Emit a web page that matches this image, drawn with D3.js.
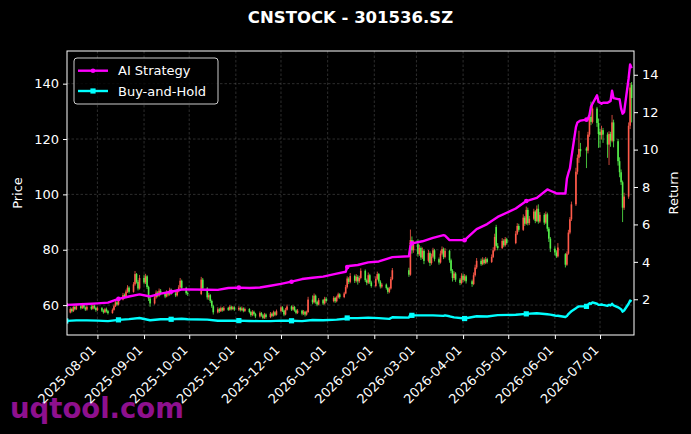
<!DOCTYPE html>
<html>
<head>
<meta charset="utf-8">
<script src="https://cdn.jsdelivr.net/npm/d3@7"></script>
<style>
  body { margin: 0; background: #000; }
  svg { display: block; }
</style>
</head>
<body>
<svg width="691" height="434"></svg>
<script>
// ---- data ----
// trading calendar: weekdays from firstDay to lastDay, minus exchange closures
const firstDay = '2025-07-11';
const lastDay = '2026-07-22';
const closedDays = ['2025-10-01', '2025-10-02', '2025-10-03', '2025-10-06', '2025-10-07', '2025-10-08',
  '2026-01-01', '2026-01-02', '2026-02-16', '2026-02-17', '2026-02-18', '2026-02-19', '2026-02-20',
  '2026-02-23', '2026-04-06', '2026-05-01', '2026-05-04', '2026-05-05', '2026-06-04', '2026-06-05',
  '2026-06-19'];

// daily candles, one row per month
const open = [
  58.0,57.3,58.6,57.8,59.3,58.5,59.6,58.9,60.2,59.1,58.4,59.4,58.7,59.8,59.0,
  58.2,58.9,58.0,57.4,58.5,57.8,57.1,58.3,59.6,61.0,60.2,62.0,63.6,62.8,64.9,66.3,64.8,67.5,71.2,68.4,66.0,
  69.8,68.2,70.4,66.5,62.4,60.6,62.8,64.5,63.4,65.2,64.0,63.1,64.6,63.8,65.5,64.2,63.5,65.0,66.4,68.8,66.2,64.3,
  64.0,69.2,66.0,62.8,63.6,61.5,59.6,57.4,58.5,57.8,58.9,58.1,59.0,58.3,59.4,58.6,59.2,
  58.4,59.0,58.2,58.8,57.9,58.6,57.5,56.4,57.6,56.8,55.9,57.1,56.3,55.4,56.6,55.7,56.9,56.1,57.4,56.5,
  57.8,59.2,58.0,56.6,58.3,59.5,58.4,59.3,58.1,57.2,58.0,56.9,57.6,56.6,57.5,62.0,61.0,63.4,61.2,60.2,61.8,60.6,62.3,
  61.5,62.6,61.4,62.8,63.9,62.9,64.2,66.5,69.6,68.4,70.5,68.8,70.2,68.6,69.8,72.4,69.0,68.1,70.8,68.2,
  66.9,69.5,71.2,68.5,66.7,67.4,66.2,64.8,66.0,69.4,72.6,71.0,83.5,79.8,
  82.0,78.4,80.6,77.2,79.6,76.0,78.8,75.2,77.5,79.8,76.6,75.4,78.6,80.2,77.4,79.6,76.2,72.4,69.8,71.4,69.2,68.0,
  70.6,69.1,70.4,68.6,67.6,70.8,73.6,76.0,74.8,76.4,75.2,76.6,75.6,77.4,79.8,88.2,81.4,80.6,83.2,81.6,83.8,
  82.4,85.8,88.6,87.2,91.6,89.4,94.4,89.6,91.2,93.8,90.4,94.8,90.2,92.6,89.8,92.8,87.6,84.0,
  80.4,79.0,77.6,78.4,74.6,78.6,86.2,91.0,96.4,108.2,113.2,116.4,116.6,115.8,121.6,128.0,126.2,131.0,125.8,
  122.6,121.4,123.2,121.6,118.0,121.8,119.4,126.0,119.2,112.0,108.0,104.4,95.2,99.2,124.8,139.6
];
const high = [
  58.5,59.2,59.0,59.8,60.2,60.1,60.3,60.8,60.6,59.5,59.9,60.0,60.4,60.2,59.4,
  59.5,59.3,58.5,59.0,59.1,58.2,58.8,60.2,61.6,61.8,62.6,64.4,64.2,65.6,67.2,66.8,68.3,72.3,71.6,69.1,70.9,
  71.0,71.3,70.8,67.0,63.0,63.5,65.3,65.0,66.0,65.8,64.6,65.4,65.1,66.3,66.0,64.8,65.8,67.2,69.8,69.2,66.6,64.9,
  70.2,69.8,66.5,64.4,64.0,62.0,60.1,59.2,59.0,59.5,59.3,59.6,59.4,60.0,59.8,59.7,59.6,
  59.6,59.4,59.5,59.2,59.1,58.9,57.9,58.2,58.0,57.2,57.7,57.5,56.8,57.2,57.0,57.5,57.3,58.0,57.8,58.4,
  59.8,59.6,58.4,59.0,60.2,59.9,59.9,59.7,58.5,58.6,58.3,58.2,57.9,58.0,63.0,63.5,64.2,63.8,61.6,62.5,62.2,63.0,62.9,
  63.2,63.0,63.4,64.5,64.3,64.8,67.3,70.4,70.1,71.6,71.0,71.2,70.8,70.6,73.3,72.9,69.6,71.8,71.3,68.8,
  70.4,72.1,71.6,69.0,68.0,67.8,66.6,66.6,70.2,73.4,73.5,87.3,84.8,83.4,
  83.8,81.8,81.2,80.8,80.1,79.9,79.4,78.6,80.7,80.3,77.2,79.7,81.2,80.8,80.6,80.0,76.8,73.0,72.2,71.9,69.8,71.5,
  71.3,71.2,70.9,69.2,71.8,74.6,77.0,76.8,77.3,76.9,77.4,77.1,78.3,80.9,85.8,89.0,82.4,84.2,83.8,84.6,84.3,
  86.8,89.6,89.4,92.8,92.2,95.6,95.2,92.2,94.8,94.3,96.0,96.4,93.6,93.2,93.8,93.4,88.2,84.6,
  81.2,79.8,82.4,78.8,79.4,87.2,91.8,97.4,109.6,114.4,123.0,118.6,117.2,122.6,129.6,133.5,132.4,131.6,127.4,
  123.6,124.8,124.0,122.4,122.8,122.6,128.7,127.0,120.0,113.4,109.0,105.0,100.6,126.0,140.2,140.6
];
const low = [
  56.6,57.0,57.3,57.5,58.1,58.2,58.4,58.6,58.7,57.9,58.0,58.2,58.4,58.5,57.6,
  57.8,57.5,56.9,57.1,57.3,56.6,56.9,58.0,59.3,59.8,59.9,61.7,62.3,62.5,64.4,64.2,64.5,67.0,67.8,65.3,65.6,
  67.5,67.6,65.8,61.5,59.4,60.2,62.3,62.8,63.0,63.5,62.5,62.8,63.2,63.4,63.7,62.9,63.1,64.6,66.0,65.6,63.7,63.3,
  63.6,65.3,62.0,61.9,60.8,59.0,56.6,57.0,57.2,57.5,57.6,57.8,57.9,58.0,58.1,58.2,57.9,
  57.9,57.7,57.8,57.4,57.5,57.0,55.8,56.0,56.2,55.3,55.5,55.8,54.9,55.0,55.1,55.3,55.6,55.8,56.0,56.2,
  57.4,57.5,56.0,56.3,58.0,57.9,58.0,57.6,56.7,56.8,56.3,56.4,55.9,56.2,57.2,60.3,60.6,60.5,59.6,59.9,60.0,60.2,60.9,
  61.0,60.8,61.0,62.4,62.3,62.5,63.9,66.0,67.6,67.9,68.0,68.2,67.4,68.0,69.3,68.3,67.2,67.6,67.6,66.3,
  66.4,69.0,67.8,66.0,66.1,65.6,64.1,64.3,65.6,69.0,70.2,70.6,78.6,78.9,
  77.5,77.8,76.3,76.6,74.8,75.4,74.1,74.6,77.0,75.8,74.6,75.0,78.0,76.6,76.9,75.3,71.5,68.5,69.1,68.4,67.2,67.5,
  68.4,68.6,67.8,66.6,67.2,70.3,73.0,74.2,74.4,74.6,74.8,75.0,75.2,77.0,79.4,80.8,79.8,80.2,80.9,81.1,81.8,
  82.0,85.3,86.5,86.8,88.6,89.0,88.8,88.9,90.7,89.6,90.0,89.4,89.7,89.0,89.3,86.6,82.8,79.2,
  78.0,77.0,77.2,73.6,74.2,78.2,85.6,90.4,95.8,107.2,111.4,113.6,109.5,114.8,120.8,125.0,125.6,124.4,116.8,
  117.0,119.8,118.6,113.2,110.6,117.2,118.8,117.0,110.4,106.2,103.4,90.0,94.4,98.4,123.6,126.0
];
const close = [
  57.2,58.6,57.8,59.3,58.5,59.6,58.9,60.2,59.1,58.4,59.4,58.7,59.8,59.0,58.2,
  58.9,58.0,57.4,58.5,57.8,57.1,58.3,59.6,61.0,60.2,62.0,63.6,62.8,64.9,66.3,64.8,67.5,71.2,68.4,66.0,69.8,
  68.2,70.4,66.5,62.4,60.6,62.8,64.5,63.4,65.2,64.0,63.1,64.6,63.8,65.5,64.2,63.5,65.0,66.4,68.8,66.2,64.3,64.0,
  69.2,66.0,62.8,63.6,61.5,59.6,57.4,58.5,57.8,58.9,58.1,59.0,58.3,59.4,58.6,59.2,58.4,
  59.0,58.2,58.8,57.9,58.6,57.5,56.4,57.6,56.8,55.9,57.1,56.3,55.4,56.6,55.7,56.9,56.1,57.4,56.5,57.8,
  59.2,58.0,56.6,58.3,59.5,58.4,59.3,58.1,57.2,58.0,56.9,57.6,56.6,57.5,62.0,61.0,63.4,61.2,60.2,61.8,60.6,62.3,61.5,
  62.6,61.4,62.8,63.9,62.9,64.2,66.5,69.6,68.4,70.5,68.8,70.2,68.6,69.8,72.4,69.0,68.1,70.8,68.2,66.9,
  69.5,71.2,68.5,66.7,67.4,66.2,64.8,66.0,69.4,72.6,71.0,83.5,79.8,82.0,
  78.4,80.6,77.2,79.6,76.0,78.8,75.2,77.5,79.8,76.6,75.4,78.6,80.2,77.4,79.6,76.2,72.4,69.8,71.4,69.2,68.0,70.6,
  69.1,70.4,68.6,67.6,70.8,73.6,76.0,74.8,76.4,75.2,76.6,75.6,77.4,79.8,84.6,81.4,80.6,83.2,81.6,83.8,82.4,
  85.8,88.6,87.2,91.6,89.4,94.4,89.6,91.2,93.8,90.4,94.8,90.2,92.6,89.8,92.8,87.6,84.0,80.4,
  79.0,77.6,80.8,74.6,78.6,86.2,91.0,96.4,108.2,113.2,116.4,115.6,115.8,121.6,128.0,126.2,131.0,125.8,121.8,
  121.4,123.2,121.6,118.0,121.8,119.4,126.0,119.2,112.0,108.0,104.4,95.2,99.2,124.8,138.6,134.8
];

// return lines, keyed by trading-day index
const lineIdx = [0,5,10,15,20,25,30,35,40,45,50,55,57,60,65,70,75,80,85,90,
  95,100,105,110,115,120,124,125,126,130,135,140,145,147,148,149,150,155,160,165,
  166,167,170,175,180,185,190,195,200,205,210,212,
  213,214,215,216,217,218,219,220,221,222,223,224,225,226,227,228,229,230,231,232,
  233,234,235,236,237,238,239,240,241,242,243,244,245,246,247];
const aiReturn = [1.70,1.72,1.75,1.78,1.82,2.02,2.15,2.26,2.15,2.30,2.40,2.52,2.53,2.51,2.50,2.60,2.62,2.60,2.63,2.72,
  2.82,2.94,3.08,3.15,3.21,3.37,3.47,3.72,3.78,3.83,3.97,4.02,4.20,4.25,4.30,4.85,4.99,5.10,5.28,5.43,
  5.40,5.16,5.16,5.16,5.75,6.02,6.40,6.85,7.25,7.42,7.87,7.80,
  7.70,7.65,7.65,7.65,8.45,8.75,9.00,9.60,11.20,11.45,11.50,11.55,11.60,11.65,11.85,12.30,12.45,12.90,12.55,12.50,
  12.45,12.50,12.50,12.55,12.60,13.15,12.75,12.70,12.70,12.20,11.92,12.00,13.80,14.55,14.35];
const bhReturn = [0.84,0.87,0.87,0.86,0.83,0.90,0.94,1.00,0.88,0.93,0.93,0.96,0.93,0.91,0.85,0.85,0.86,0.84,0.83,0.83,
  0.86,0.85,0.83,0.89,0.88,0.91,0.96,1.00,0.99,0.99,1.02,0.99,0.95,1.04,1.02,1.19,1.14,1.14,1.14,1.11,
  1.14,1.09,1.03,0.97,1.09,1.08,1.15,1.17,1.22,1.25,1.20,1.18,
  1.13,1.11,1.12,1.05,1.10,1.21,1.29,1.36,1.52,1.58,1.62,1.62,1.62,1.70,1.79,1.76,1.83,1.76,1.70,1.70,
  1.72,1.70,1.65,1.70,1.67,1.76,1.67,1.57,1.52,1.47,1.34,1.40,1.76,1.93,1.88];

const priceTicks = [60, 80, 100, 120, 140];
const returnTicks = [2, 4, 6, 8, 10, 12, 14];

(function (d3) {
  'use strict';

  const svg = d3.select('svg');
  const width = +svg.attr('width');
  const height = +svg.attr('height');

  const left = 67, right = 634, top = 51, bottom = 335;
  const font = 'DejaVu Sans, Arial, sans-serif';

  svg.append('rect').attr('width', width).attr('height', height).attr('fill', '#000');

  const fmt = d3.timeFormat('%Y-%m-%d');
  const parse = d3.timeParse('%Y-%m-%d');
  const days = d3.timeDay.range(parse(firstDay), d3.timeDay.offset(parse(lastDay), 1))
    .filter(d => d.getDay() % 6 !== 0 && !closedDays.includes(fmt(d)));

  const x = d3.scaleTime()
    .domain([new Date(2025, 6, 11, 19), new Date(2026, 6, 23, 14)])
    .range([left, right]);
  const yP = d3.scaleLinear().domain([49.2, 151.8]).range([bottom, top]);
  const yR = d3.scaleLinear().domain([0.09, 15.27]).range([bottom, top]);

  svg.append('clipPath').attr('id', 'plot')
    .append('rect')
      .attr('x', left).attr('y', top)
      .attr('width', right - left).attr('height', bottom - top);

  // grid
  const monthTicks = d3.timeMonth.range(new Date(2025, 7, 1), new Date(2026, 6, 2));
  const grid = svg.append('g')
    .attr('stroke', '#8a8a8a').attr('stroke-opacity', 0.55)
    .attr('stroke-width', 0.6).attr('stroke-dasharray', '2.5,2');
  grid.selectAll('.gx').data(monthTicks).enter().append('line')
    .attr('x1', d => x(d)).attr('x2', d => x(d))
    .attr('y1', top).attr('y2', bottom);
  grid.selectAll('.gy').data(priceTicks).enter().append('line')
    .attr('x1', left).attr('x2', right)
    .attr('y1', d => yP(d)).attr('y2', d => yP(d));

  // watermark sits under the axis labels
  svg.append('text')
    .attr('x', 10).attr('y', 418)
    .attr('font-family', font).attr('font-weight', 'bold').attr('font-size', 27.5)
    .attr('fill', '#8e108e')
    .text('uqtool.com');

  // candles
  const candles = days.map((d, i) => ({ d, o: open[i], h: high[i], l: low[i], c: close[i] }));
  const cg = svg.append('g').attr('clip-path', 'url(#plot)');
  const col = k => k.c >= k.o ? '#ff5a4a' : '#55f04a';
  cg.selectAll('.wick').data(candles).enter().append('line')
    .attr('x1', k => x(k.d)).attr('x2', k => x(k.d))
    .attr('y1', k => yP(k.h)).attr('y2', k => yP(k.l))
    .attr('stroke', col).attr('stroke-width', 0.8);
  cg.selectAll('.body').data(candles).enter().append('rect')
    .attr('x', k => x(k.d) - 0.8)
    .attr('width', 1.6)
    .attr('y', k => yP(Math.max(k.o, k.c)))
    .attr('height', k => Math.max(0.8, Math.abs(yP(k.o) - yP(k.c))))
    .attr('fill', col);

  // return lines
  const ai = lineIdx.map((i, j) => ({ i, d: days[i], v: aiReturn[j] }));
  const bh = lineIdx.map((i, j) => ({ i, d: days[i], v: bhReturn[j] }));
  const line = d3.line().x(p => x(p.d)).y(p => yR(p.v));
  const lg = svg.append('g').attr('clip-path', 'url(#plot)');
  lg.append('path').attr('d', line(bh))
    .attr('fill', 'none').attr('stroke', '#00ffff').attr('stroke-width', 2.4)
    .attr('stroke-linejoin', 'round');
  lg.append('path').attr('d', line(ai))
    .attr('fill', 'none').attr('stroke', '#ff00ff').attr('stroke-width', 2.4)
    .attr('stroke-linejoin', 'round');
  lg.selectAll('.mb').data(bh.filter(p => p.i % 25 === 0)).enter().append('rect')
    .attr('x', p => x(p.d) - 2.6).attr('y', p => yR(p.v) - 2.6)
    .attr('width', 5.2).attr('height', 5.2).attr('fill', '#00ffff');
  lg.selectAll('.ma').data(ai.filter(p => p.i % 25 === 0)).enter().append('circle')
    .attr('cx', p => x(p.d)).attr('cy', p => yR(p.v)).attr('r', 2.3)
    .attr('fill', '#ff00ff');

  // frame
  svg.append('rect')
    .attr('x', left).attr('y', top)
    .attr('width', right - left).attr('height', bottom - top)
    .attr('fill', 'none').attr('stroke', '#fff').attr('stroke-width', 1);

  // axes
  const axL = svg.append('g').attr('transform', `translate(${left},0)`)
    .call(d3.axisLeft(yP).tickValues(priceTicks).tickSize(4).tickPadding(4));
  const axR = svg.append('g').attr('transform', `translate(${right},0)`)
    .call(d3.axisRight(yR).tickValues(returnTicks).tickSize(4).tickPadding(4));
  const axB = svg.append('g').attr('transform', `translate(0,${bottom})`)
    .call(d3.axisBottom(x).tickValues(monthTicks).tickFormat(fmt).tickSize(4).tickPadding(4));
  [axL, axR, axB].forEach(a => {
    a.select('.domain').remove();
    a.selectAll('line').attr('stroke', '#fff');
    a.selectAll('text').attr('fill', '#fff').attr('font-family', font).attr('font-size', 13);
  });
  axB.selectAll('text')
    .attr('text-anchor', 'end')
    .attr('dy', null).attr('y', 0)
    .attr('transform', 'translate(-1,16) rotate(-45)');

  // labels
  svg.append('text')
    .attr('transform', 'translate(22,193) rotate(-90)')
    .attr('text-anchor', 'middle')
    .attr('font-family', font).attr('font-size', 13).attr('fill', '#fff')
    .text('Price');
  svg.append('text')
    .attr('transform', 'translate(678,193) rotate(-90)')
    .attr('text-anchor', 'middle')
    .attr('font-family', font).attr('font-size', 13).attr('fill', '#fff')
    .text('Return');
  svg.append('text')
    .attr('x', (left + right) / 2).attr('y', 23)
    .attr('text-anchor', 'middle')
    .attr('font-family', font).attr('font-weight', 'bold').attr('font-size', 16.5)
    .attr('fill', '#fff')
    .text('CNSTOCK - 301536.SZ');

  // legend
  const leg = svg.append('g').attr('transform', 'translate(74,58)');
  leg.append('rect')
    .attr('width', 144).attr('height', 46).attr('rx', 3)
    .attr('fill', '#000').attr('fill-opacity', 0.8)
    .attr('stroke', '#cccccc').attr('stroke-width', 1);
  const items = [
    { name: 'AI Strategy', color: '#ff00ff', mark: 'circle' },
    { name: 'Buy-and-Hold', color: '#00ffff', mark: 'square' }
  ];
  items.forEach((it, k) => {
    const yy = 12.7 + k * 20.3;
    leg.append('line')
      .attr('x1', 4).attr('x2', 34).attr('y1', yy).attr('y2', yy)
      .attr('stroke', it.color).attr('stroke-width', 2.4);
    if (it.mark === 'circle') {
      leg.append('circle').attr('cx', 19).attr('cy', yy).attr('r', 2.3).attr('fill', it.color);
    } else {
      leg.append('rect').attr('x', 16.4).attr('y', yy - 2.6)
        .attr('width', 5.2).attr('height', 5.2).attr('fill', it.color);
    }
    leg.append('text')
      .attr('x', 44).attr('y', yy + 4.6)
      .attr('font-family', font).attr('font-size', 13).attr('fill', '#fff')
      .text(it.name);
  });
}(d3));
</script>
</body>
</html>
